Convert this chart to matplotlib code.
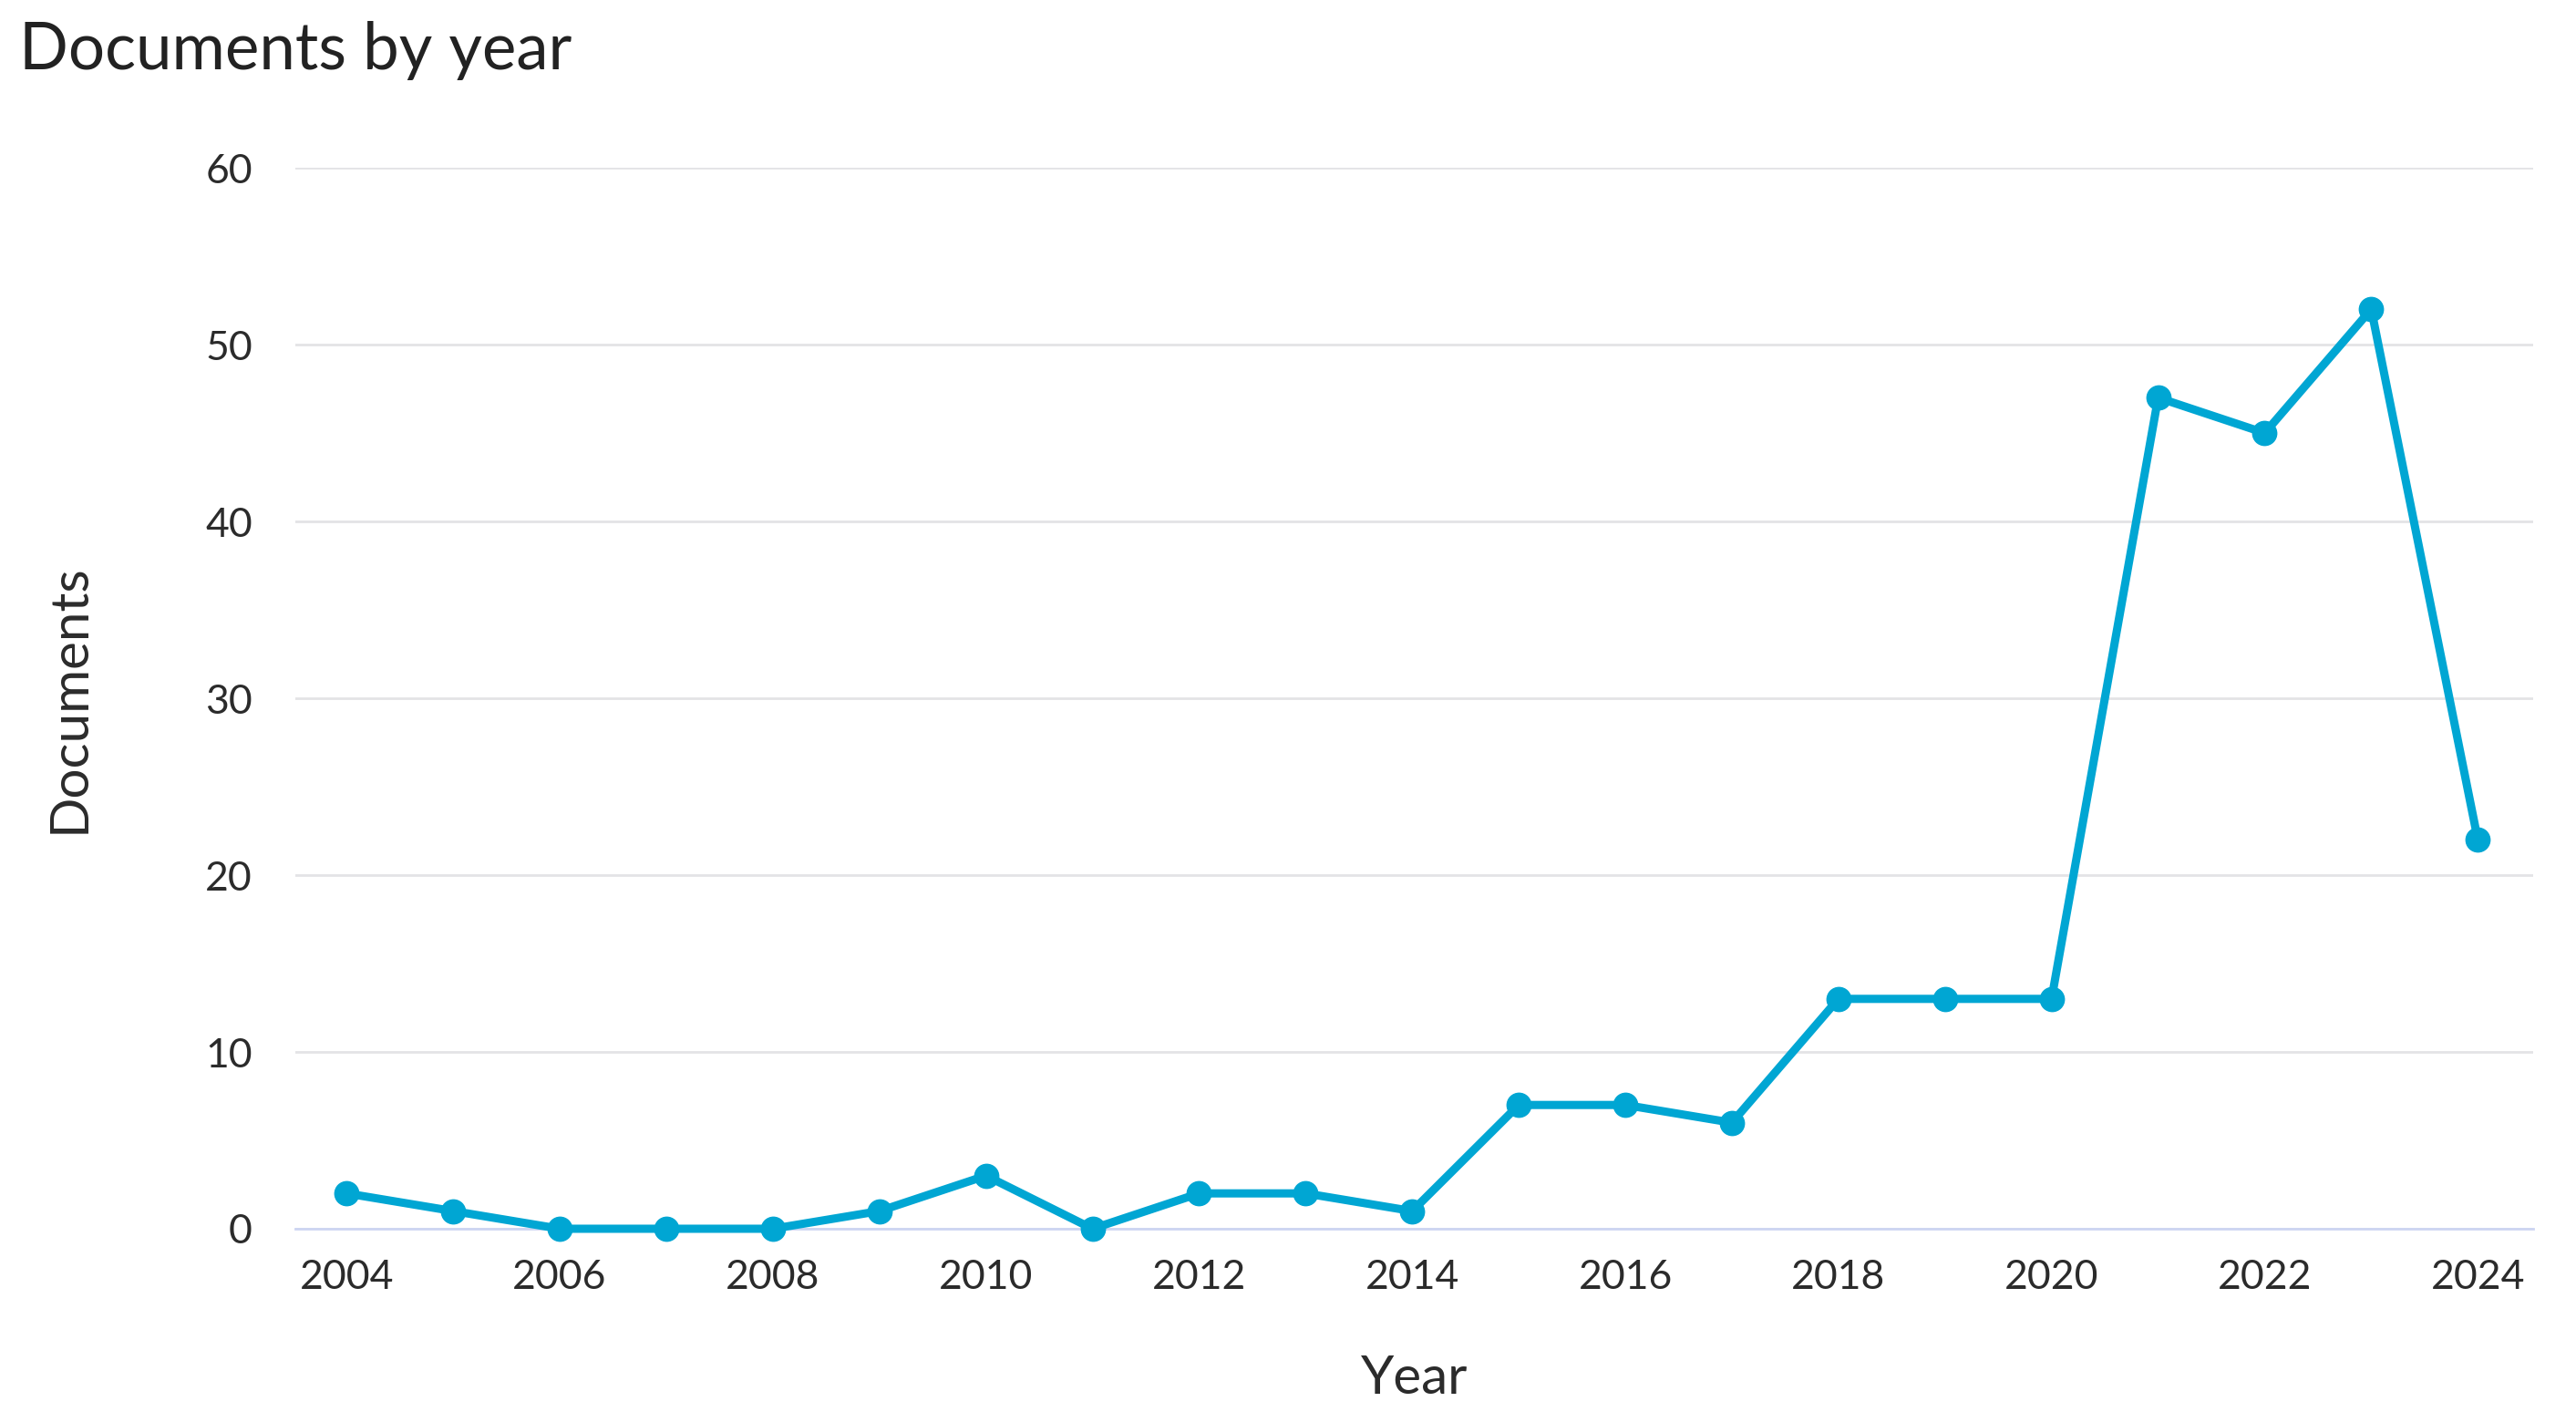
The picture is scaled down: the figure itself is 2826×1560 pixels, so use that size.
import matplotlib
matplotlib.use("Agg")
import matplotlib.pyplot as plt

plt.rcParams['font.family'] = ['Lato', 'DejaVu Sans']

years = [2004, 2005, 2006, 2007, 2008, 2009, 2010, 2011, 2012, 2013, 2014,
         2015, 2016, 2017, 2018, 2019, 2020, 2021, 2022, 2023, 2024]
docs = [2, 1, 0, 0, 0, 1, 3, 0, 2, 2, 1,
        7, 7, 6, 13, 13, 13, 47, 45, 52, 22]
xticks = list(range(2004, 2025, 2))
yticks = [0, 10, 20, 30, 40, 50, 60]

fig = plt.figure(figsize=(28.26, 15.6), dpi=100)
ax = fig.add_axes([0.1147, 0.1359, 0.8687, 0.7461])

line_color = '#00a6d3'
ax.plot(years, docs, color=line_color, lw=6.5, marker='o', markersize=19,
        clip_on=False, zorder=3)

ax.set_xlim(2003.52, 2024.52)
ax.set_ylim(0, 60)
ax.set_xticks(xticks)
ax.set_yticks(yticks)
ax.grid(axis='y', color='#e3e3e6', lw=2)
ax.set_axisbelow(True)
for s in ['top', 'right', 'left']:
    ax.spines[s].set_visible(False)
ax.spines['bottom'].set_color('#cdd5f2')
ax.spines['bottom'].set_linewidth(2)
ax.tick_params(axis='both', length=0, labelsize=32, labelcolor='#2b2b2b')
ax.tick_params(axis='x', pad=24)
ax.tick_params(axis='y', pad=34)

ax.set_xlabel('Year', fontsize=42, color='#2b2b2b', labelpad=46)
ax.set_ylabel('Documents', fontsize=42, color='#2b2b2b', labelpad=88)

fig.text(0.0075, 0.985, 'Documents by year', fontsize=51, color='#222222',
         ha='left', va='top')

fig.savefig('out.png', dpi=100, facecolor='white')
